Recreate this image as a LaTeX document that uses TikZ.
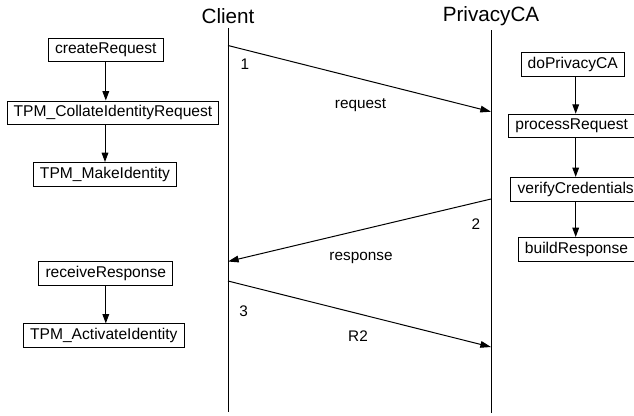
\documentclass[tikz,border=0pt]{standalone}
\usepackage{fontspec}
\setmainfont{Liberation Sans}
\usetikzlibrary{arrows.meta}
\tikzset{
    fnbox/.style = {rectangle, draw=black, line width=0.75pt, inner xsep=5pt, inner ysep=3.3pt, text height=8.5pt, text depth=2.6pt, font=\fontsize{11.7}{14}\selectfont},
    actor/.style = {anchor=base, font=\fontsize{15.5}{18}\selectfont},
    msglabel/.style = {anchor=base, font=\fontsize{11.5}{14}\selectfont},
    lifeline/.style = {line width=0.75pt},
    edgen/.style = {-{Triangle[length=7pt,width=5pt]}, line width=0.75pt},
    edgem/.style = {-{Triangle[length=8pt,width=5pt]}, line width=0.75pt},
}

\begin{document}
\begin{tikzpicture}[x=0.75pt,y=-0.75pt]
\clip (0,0) rectangle (634,415);
%
\node[actor] at (228,23) (client) {Client};
\node[actor] at (491,21) (pca) {PrivacyCA};
\coordinate (cend) at (228,412);
\coordinate (pend) at (491,413);
%
\node[fnbox] at (105.8,50) (cr) {createRequest};
\node[fnbox] at (113,112.8) (tci) {TPM\_CollateIdentityRequest};
\node[fnbox] at (105,174.3) (tmi) {TPM\_MakeIdentity};
\node[fnbox] at (105.8,273.7) (rr) {receiveResponse};
\node[fnbox] at (103.8,335.7) (tai) {TPM\_ActivateIdentity};
%
\node[fnbox] at (572.8,64.7) (dpc) {doPrivacyCA};
\node[fnbox] at (571.7,126) (pr) {processRequest};
\node[fnbox] at (575.7,189.2) (vc) {verifyCredentials};
\node[fnbox] at (576.5,249.3) (br) {buildResponse};
%
\coordinate (m1s) at (228,45.5);
\coordinate (m1e) at (491,111.7);
\coordinate (m2s) at (491,199);
\coordinate (m2e) at (228,261.5);
\coordinate (m3s) at (228,281);
\coordinate (m3e) at (491,347);
%
\node[msglabel] at (245,69) (n1) {1};
\node[msglabel] at (360.5,108.3) (lreq) {request};
\node[msglabel] at (476,229.3) (n2) {2};
\node[msglabel] at (361,260.7) (lresp) {response};
\node[msglabel] at (243.7,316) (n3) {3};
\node[msglabel] at (358,341.7) (lr2) {R2};
%
\draw[lifeline] (client.south) -- (cend);
\draw[lifeline] (pca.south) -- (pend);
%
\draw[edgen] (cr.south) -- (cr.south |- tci.north);
\draw[edgen] (tmi.north |- tci.south) -- (tmi.north);
\draw[edgen] (rr.south) -- (rr.south |- tai.north);
\draw[edgen] (dpc.south -| vc) -- (pr.north -| vc);
\draw[edgen] (pr.south -| vc) -- (vc.north);
\draw[edgen] (vc.south) -- (br.north -| vc);
%
\draw[edgem] (m1s) -- (m1e);
\draw[edgem] (m2s) -- (m2e);
\draw[edgem] (m3s) -- (m3e);
\end{tikzpicture}
\end{document}
